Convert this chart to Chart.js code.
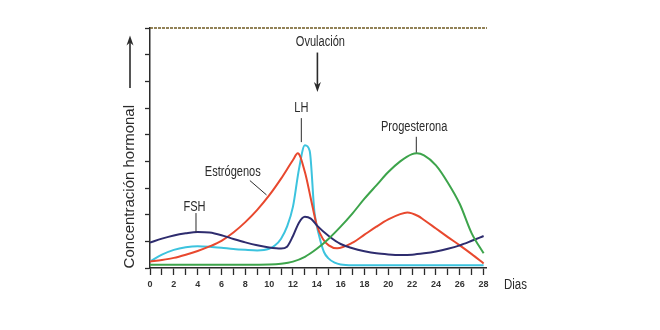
<!DOCTYPE html>
<html lang="es">
<head>
<meta charset="UTF-8">
<title>Ciclo hormonal</title>
<script src="https://cdn.jsdelivr.net/npm/chart.js"></script>
<style>
    html, body { margin: 0; padding: 0; background: #fff; }
    #wrap { width: 660px; height: 330px; }
</style>
</head>
<body>
<div id="wrap"><canvas id="ciclo"></canvas></div>
<script>
    // Niveles hormonales (unidades relativas) a lo largo del ciclo de 28 días
    const fshDays = [0, 1, 2, 3, 4, 5, 6, 7, 8, 9, 10, 11, 11.5, 12, 12.5, 13, 13.5, 14, 15, 16, 17, 18, 19, 20, 21, 22, 23, 24, 25, 26, 27, 28];
    const fshLevels = [0.95, 1.1, 1.22, 1.3, 1.35, 1.33, 1.23, 1.09, 0.96, 0.85, 0.77, 0.73, 0.8, 1.2, 1.7, 1.92, 1.85, 1.6, 1.2, 0.9, 0.74, 0.63, 0.55, 0.51, 0.49, 0.5, 0.55, 0.62, 0.72, 0.85, 1.02, 1.2];

    const estDays = [0, 1, 2, 3, 4, 5, 6, 7, 8, 9, 10, 11, 12, 12.4, 13, 13.5, 14, 14.5, 15, 15.7, 17, 18, 19, 20, 21, 21.6, 22.5, 23, 24, 25, 26, 27, 28];
    const estLevels = [0.24, 0.3, 0.38, 0.5, 0.64, 0.81, 1.02, 1.33, 1.72, 2.18, 2.72, 3.35, 4.05, 4.3, 3.6, 2.6, 1.6, 1.1, 0.85, 0.74, 0.95, 1.25, 1.55, 1.82, 2.02, 2.08, 1.95, 1.8, 1.48, 1.16, 0.85, 0.52, 0.17];

    const lhDays = [0, 1, 2, 3, 4, 5, 6, 7, 8, 9, 10, 10.5, 11, 11.5, 12, 12.5, 13, 13.4, 13.8, 14.2, 14.6, 15, 15.5, 16, 17, 28];
    const lhLevels = [0.25, 0.5, 0.68, 0.78, 0.82, 0.8, 0.76, 0.71, 0.68, 0.66, 0.72, 0.85, 1.1, 1.55, 2.3, 3.7, 4.6, 4.4, 2.1, 1.2, 0.6, 0.35, 0.2, 0.13, 0.1, 0.1];

    const progDays = [0, 4, 8, 10, 11, 12, 13, 14, 15, 16, 17, 18, 19, 20, 21, 22, 22.4, 23, 24, 25, 26, 27, 28];
    const progLevels = [0.12, 0.12, 0.12, 0.13, 0.16, 0.24, 0.42, 0.72, 1.1, 1.55, 2.05, 2.6, 3.1, 3.6, 4.0, 4.27, 4.3, 4.22, 3.85, 3.2, 2.4, 1.3, 0.55];

    const dayTicks = [0, 2, 4, 6, 8, 10, 12, 14, 16, 18, 20, 22, 24, 26, 28];

    const sans = '"Liberation Sans", Arial, sans-serif';
    const ink = '#2b2b2b';

    function toPoints(xs, ys) {
        return xs.map((x, i) => ({ x: x, y: ys[i] }));
    }

    function curve(label, xs, ys, color) {
        return {
            label: label,
            data: toPoints(xs, ys),
            borderColor: color,
            borderWidth: 2,
            pointRadius: 0,
            fill: false,
            tension: 0.4,
            cubicInterpolationMode: 'monotone'
        };
    }

    // etiquetas, flechas y línea superior
    const labelsPlugin = {
        id: 'etiquetas',
        afterDatasetsDraw(chart) {
            const ctx = chart.ctx;
            const xs = chart.scales.x;
            const ys = chart.scales.y;
            const area = chart.chartArea;
            const px = v => xs.getPixelForValue(v);
            const py = v => ys.getPixelForValue(v);

            ctx.save();

            // línea superior discontinua
            ctx.strokeStyle = '#6f5a22';
            ctx.lineWidth = 1.5;
            ctx.setLineDash([3, 1]);
            ctx.beginPath();
            ctx.moveTo(area.left, py(9));
            ctx.lineTo(area.right + 1, py(9));
            ctx.stroke();
            ctx.setLineDash([]);

            ctx.fillStyle = ink;
            ctx.strokeStyle = ink;
            ctx.lineWidth = 1;
            ctx.textBaseline = 'middle';

            // texto estrechado horizontalmente
            function narrowText(str, x, y, size, sx, align, rot) {
                ctx.save();
                ctx.translate(x, y);
                if (rot) ctx.rotate(rot);
                ctx.scale(sx, 1);
                ctx.font = size + 'px ' + sans;
                ctx.textAlign = align || 'center';
                ctx.fillText(str, 0, 0);
                ctx.restore();
            }
            function text(str, x, y) {
                narrowText(str, px(x), py(y), 14, 0.79);
            }
            function line(x1, y1, x2, y2) {
                ctx.beginPath();
                ctx.moveTo(px(x1), py(y1));
                ctx.lineTo(px(x2), py(y2));
                ctx.stroke();
            }
            function arrow(ax, y1, y2) {
                const dir = y2 > y1 ? 1 : -1;
                ctx.lineWidth = 1.6;
                ctx.beginPath();
                ctx.moveTo(ax, y1);
                ctx.lineTo(ax, y2 - dir * 4);
                ctx.stroke();
                ctx.beginPath();
                ctx.moveTo(ax, y2);
                ctx.lineTo(ax - 3.5, y2 - dir * 10);
                ctx.lineTo(ax, y2 - dir * 7);
                ctx.lineTo(ax + 3.5, y2 - dir * 10);
                ctx.closePath();
                ctx.fill();
                ctx.lineWidth = 1;
            }

            text('Ovulación', 14.3, 8.47);
            arrow(px(14.05), py(8.08), py(6.6));

            text('LH', 12.7, 6.0);
            line(12.7, 5.62, 12.7, 4.72);

            text('Estrógenos', 6.95, 3.61);
            line(8.38, 3.28, 9.78, 2.74);

            text('FSH', 3.73, 2.3);
            line(3.86, 2.06, 3.86, 1.36);

            text('Progesterona', 22.17, 5.3);
            line(22.35, 4.92, 22.35, 4.33);

            // título del eje vertical con flecha
            const tx = area.left - 20;
            narrowText('Concentración hormonal', tx, py(3.05), 15, 1.0, 'center', -Math.PI / 2);
            arrow(tx, py(6.75), py(8.72));

            // rótulo del eje horizontal
            narrowText('Dias', area.right + 18, py(0) + 17, 14, 0.82, 'left');

            ctx.restore();
        }
    };

    new Chart(document.getElementById('ciclo'), {
        type: 'line',
        data: {
            datasets: [
                curve('Progesterona', progDays, progLevels, '#3da44b'),
                curve('FSH', fshDays, fshLevels, '#2e2c6e'),
                curve('Estrógenos', estDays, estLevels, '#e8482e'),
                curve('LH', lhDays, lhLevels, '#3cc3de')
            ]
        },
        options: {
            responsive: true,
            maintainAspectRatio: false,
            animation: false,
            layout: { padding: { left: 100, right: 174, top: 28, bottom: 40 } },
            plugins: {
                legend: { display: false },
                tooltip: { enabled: false }
            },
            scales: {
                x: {
                    type: 'linear',
                    min: 0,
                    max: 28.2,
                    afterBuildTicks(scale) {
                        const t = [];
                        for (let d = 0; d <= 28; d++) t.push({ value: d });
                        scale.ticks = t;
                    },
                    afterFit(scale) { scale.height = 22; },
                    grid: {
                        drawOnChartArea: false,
                        drawTicks: true,
                        tickLength: 7,
                        tickColor: ink,
                        tickWidth: 1.3
                    },
                    border: { display: true, color: ink, width: 1.5 },
                    ticks: {
                        autoSkip: false,
                        maxRotation: 0,
                        padding: 4,
                        color: '#333',
                        font: { family: 'Liberation Sans', size: 9, weight: 'bold' },
                        callback: v => dayTicks.includes(v) ? String(v) : ''
                    }
                },
                y: {
                    min: 0,
                    max: 9,
                    afterFit(scale) { scale.width = 50; },
                    grid: {
                        drawOnChartArea: false,
                        drawTicks: true,
                        tickLength: 5,
                        tickColor: ink,
                        tickWidth: 1.3
                    },
                    border: { display: true, color: ink, width: 1.5, dash: [4, 1] },
                    ticks: { stepSize: 1, callback: () => '' }
                }
            }
        },
        plugins: [labelsPlugin]
    });
</script>
</body>
</html>
